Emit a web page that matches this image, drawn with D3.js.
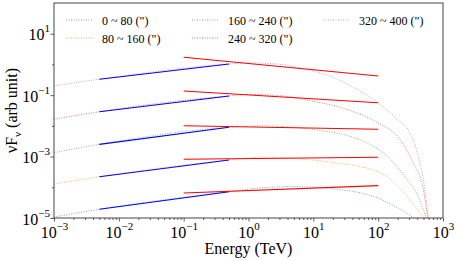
<!DOCTYPE html>
<html>
<head>
<meta charset="utf-8">
<script src="https://cdn.jsdelivr.net/npm/d3@7"></script>
<style>
body { margin: 0; background: #fff; }
svg text { font-family: "Liberation Serif", "Times New Roman", Times, "DejaVu Serif", serif; fill: #000; }
</style>
</head>
<body>
<div id="chart"></div>
<script>
// legend labels and colours of the 5 angular bins
const binNames = ['0 ~ 80 (")', '80 ~ 160 (")', '160 ~ 240 (")', '240 ~ 320 (")', '320 ~ 400 (")'];
const binColors = ["#1f77b4", "#ff7f0e", "#2ca02c", "#d62728", "#9467bd"];

// model curves, [energy TeV, vFv]
const bin0Model = [[0.001, 1.08e-5], [0.005, 1.92e-5], [0.5, 7.18e-5], [2, 1.0e-4], [5.1, 1.05e-4], [30, 8.1e-5], [100, 4.4e-5], [204, 2.1e-5], [390, 8.9e-6]];
const bin1Model = [[0.001, 1.28e-4], [0.005, 2.21e-4], [0.5, 7.74e-4], [1.5, 9.5e-4], [16, 6.8e-4], [100, 3.2e-4], [257, 6.3e-5], [412, 1.8e-5], [540, 8.9e-6]];
const bin2Model = [[0.001, 1.34e-3], [0.005, 2.5e-3], [0.5, 8.97e-3], [1.5, 1.0e-2], [11, 7.4e-3], [69, 2.7e-3], [141, 1.0e-3], [257, 2.24e-4], [417, 4.9e-5], [560, 8.9e-6]];
const bin3Model = [[0.001, 0.0164], [0.005, 0.0289], [0.5, 0.094], [1, 0.105], [3.2, 0.095], [10, 0.063], [32, 0.035], [100, 0.0124], [220, 0.0035], [350, 6.0e-4], [500, 8.1e-5], [590, 8e-6]];
const bin4Model = [[0.001, 0.20], [0.005, 0.33], [0.5, 1.03], [1, 1.12], [3.2, 1.0], [6.3, 0.76], [16, 0.45], [32, 0.24], [100, 0.056], [200, 0.016], [290, 0.0074], [400, 0.0014], [500, 1.7e-4], [600, 8e-6]];
const binModels = [bin0Model, bin1Model, bin2Model, bin3Model, bin4Model];

// low energy fits (blue) and high energy fits (red)
const lowFitE = [0.005, 0.5];
const lowFitF = [[1.92e-5, 7.18e-5], [2.21e-4, 7.74e-4], [2.5e-3, 8.97e-3], [0.0289, 0.094], [0.33, 1.03]];
const highFitE = [0.1, 100];
const highFitF = [[6.52e-5, 1.13e-4], [8.15e-4, 9.48e-4], [0.0101, 0.00773], [0.136, 0.0568], [1.71, 0.42]];

const xMajor = [1e-3, 1e-2, 1e-1, 1e0, 1e1, 1e2, 1e3];
const yMajor = [1e-5, 1e-3, 1e-1, 1e1];
const yMinor = [1e-4, 1e-2, 1e0];

const width = 457, height = 261;
const margin = { top: 3, right: 14, bottom: 43, left: 54 };

const svg = d3.select("#chart").append("svg")
	.attr("width", width)
	.attr("height", height);

const x = d3.scaleLog().domain([1e-3, 1e3]).range([margin.left, width - margin.right]);
const y = d3.scaleLog().domain([1e-5, 1e2]).range([height - margin.bottom, margin.top]);

svg.append("clipPath").attr("id", "plotclip")
	.append("rect")
	.attr("x", margin.left).attr("y", margin.top)
	.attr("width", width - margin.left - margin.right)
	.attr("height", height - margin.top - margin.bottom);

const plot = svg.append("g").attr("clip-path", "url(#plotclip)");

const line = d3.line()
	.x((d) => x(d[0]))
	.y((d) => y(d[1]))
	.curve(d3.curveMonotoneX);

// dotted model curves
plot.selectAll(".model")
	.data(binModels)
	.join("path")
	.attr("class", "model")
	.attr("d", line)
	.attr("fill", "none")
	.attr("stroke", (d, i) => binColors[i])
	.attr("stroke-width", 0.9)
	.attr("stroke-dasharray", "1,1.5")
	.attr("opacity", 0.7);

// fitted power laws
plot.selectAll(".lowfit")
	.data(lowFitF)
	.join("path")
	.attr("class", "lowfit")
	.attr("d", (d) => line(lowFitE.map((e, j) => [e, d[j]])))
	.attr("fill", "none")
	.attr("stroke", "#0000ff")
	.attr("stroke-width", 1.1);

plot.selectAll(".highfit")
	.data(highFitF)
	.join("path")
	.attr("class", "highfit")
	.attr("d", (d) => line(highFitE.map((e, j) => [e, d[j]])))
	.attr("fill", "none")
	.attr("stroke", "#ff0000")
	.attr("stroke-width", 1.1);

// axes
const xMinor = [];
for (let k = -3; k < 3; k++) {
	for (let m = 2; m <= 9; m++) xMinor.push(m * Math.pow(10, k));
}

const bottom = height - margin.bottom;
svg.append("g")
	.attr("transform", `translate(0,${bottom})`)
	.call(d3.axisBottom(x).tickValues(xMinor).tickSize(2).tickFormat(""))
	.call((g) => g.select(".domain").remove());
const xAxis = svg.append("g")
	.attr("transform", `translate(0,${bottom})`)
	.call(d3.axisBottom(x).tickValues(xMajor).tickSize(3.5).tickFormat(""))
	.call((g) => g.select(".domain").remove());

svg.append("g")
	.attr("transform", `translate(${margin.left},0)`)
	.call(d3.axisLeft(y).tickValues(yMinor).tickSize(2).tickFormat(""))
	.call((g) => g.select(".domain").remove());
const yAxis = svg.append("g")
	.attr("transform", `translate(${margin.left},0)`)
	.call(d3.axisLeft(y).tickValues(yMajor).tickSize(3.5).tickFormat(""))
	.call((g) => g.select(".domain").remove());

svg.selectAll(".tick line").attr("stroke", "#333").attr("stroke-width", 0.8);

const expText = (v) => String(Math.round(Math.log10(v))).replace("-", "\u2212");

xAxis.selectAll(".tick").each(function (d) {
	const t = d3.select(this).append("text")
		.attr("y", 20)
		.attr("text-anchor", "middle")
		.attr("font-size", 16);
	t.append("tspan").text("10");
	t.append("tspan").attr("dy", -8).attr("font-size", 11).text(expText(d));
});

yAxis.selectAll(".tick").each(function (d) {
	const t = d3.select(this).append("text")
		.attr("x", -4)
		.attr("y", 6)
		.attr("text-anchor", "end")
		.attr("font-size", 16);
	t.append("tspan").text("10");
	t.append("tspan").attr("dy", -8).attr("font-size", 11).text(expText(d));
});

// frame
svg.append("rect")
	.attr("x", margin.left).attr("y", margin.top)
	.attr("width", width - margin.left - margin.right)
	.attr("height", height - margin.top - margin.bottom)
	.attr("fill", "none")
	.attr("stroke", "#444")
	.attr("stroke-width", 1);

// axis titles
svg.append("text")
	.attr("x", (margin.left + width - margin.right) / 2)
	.attr("y", 254)
	.attr("text-anchor", "middle")
	.attr("font-size", 16)
	.text("Energy (TeV)");

const yt = svg.append("text")
	.attr("transform", `translate(17,${(margin.top + bottom) / 2}) rotate(-90)`)
	.attr("text-anchor", "middle")
	.attr("font-size", 16);
yt.append("tspan").text("\u03bdF");
yt.append("tspan").attr("dy", 4).attr("font-size", 11).text("\u03bd");
yt.append("tspan").attr("dy", -4).text(" (arb unit)");

// legend
const legendX = [66, 192, 323];
const legendY = [20, 38];
const legend = svg.append("g")
	.selectAll("g")
	.data(binNames)
	.join("g")
	.attr("transform", (d, i) => `translate(${legendX[Math.floor(i / 2)]},${legendY[i % 2]})`);
legend.append("line")
	.attr("x1", 0).attr("x2", 26)
	.attr("stroke", (d, i) => binColors[i])
	.attr("stroke-width", 0.9)
	.attr("stroke-dasharray", "1,1.5")
	.attr("opacity", 0.7);
legend.append("text")
	.attr("x", 36)
	.attr("y", 4.5)
	.attr("font-size", 12)
	.text((d) => d);
</script>
</body>
</html>
